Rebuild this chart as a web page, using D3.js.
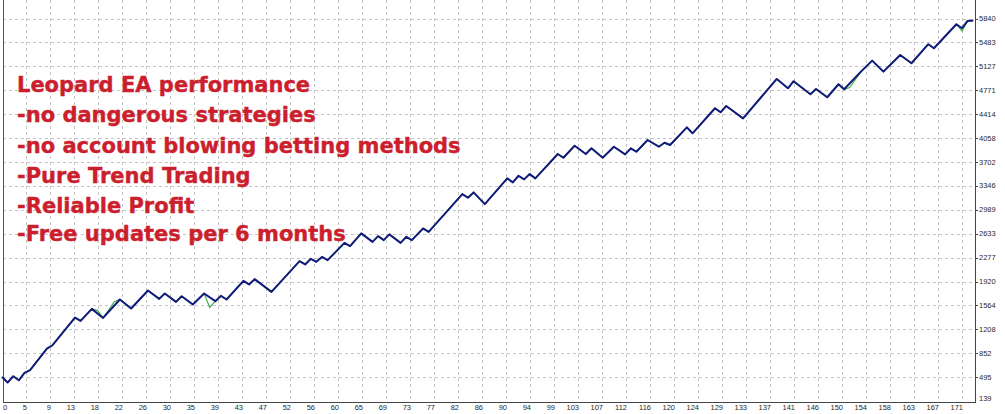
<!DOCTYPE html>
<html><head><meta charset="utf-8">
<script src="https://cdn.jsdelivr.net/npm/d3@7"></script>
<style>body{margin:0;background:#fff}svg{display:block}</style>
</head><body><svg id="c" width="1005" height="414"></svg>
<script>
// Balance curve: turning points (trade number, balance)
const tradeNo = [0,1,2,3,4,5,8,9,13,14,16,18,21,23,26,28,29,31,32,34,36,38,39,40,43,44,45,48,53,54,55,56,57,58,61,62,64,66,67,68,69,71,72,73,75,76,82,83,84,86,90,91,92,93,94,95,99,100,102,104,105,107,109,111,112,113,115,117,118,119,122,123,127,128,129,132,138,140,141,144,145,147,149,150,153,155,157,160,162,165,166,170,171,172,173];
const balance = [497,414,508,448,557,600,921,970,1383,1333,1512,1377,1652,1518,1786,1661,1741,1616,1701,1577,1741,1627,1706,1652,1929,1876,1955,1765,2223,2174,2258,2213,2287,2238,2496,2447,2637,2511,2596,2537,2622,2496,2586,2537,2711,2660,3223,3168,3248,3074,3457,3398,3496,3442,3521,3457,3820,3765,3944,3820,3905,3765,3929,3815,3905,3854,4029,3929,3988,3954,4218,4129,4502,4442,4536,4352,4939,4800,4905,4710,4790,4666,4860,4785,5048,5212,5048,5297,5173,5457,5397,5755,5695,5804,5809];
// Equity points that differ from balance (green line)
const equityTrade = [17,20,37,151,171];
const equityValue = [1490,1620,1533,4810,5655];
// Axes
const yTickValues = [139,495,852,1208,1564,1920,2277,2633,2989,3346,3702,4058,4414,4771,5127,5483,5840];
const xTickLabels = ["0","5","9","13","18","22","26","30","35","39","43","47","52","56","60","65","69","73","77","82","86","90","94","99","103","107","112","116","120","124","129","133","137","141","146","150","154","158","163","167","171"];
const notes = ["Leopard EA performance","-no dangerous strategies","-no account blowing betting methods","-Pure Trend Trading","-Reliable Profit","-Free updates per 6 months"];
const noteBaselines = [92,122,153,183,213,241];

const svg = d3.select("#c");
const W = 1005, H = 414;
const plotL = 3, plotR = 975, plotB = 402, plotT = 0;
const x = d3.scaleLinear().domain([0, 171]).range([2, 962]);
const y = d3.scaleLinear().domain([139, 5840]).range([401, 18.5]);
const xTickPos = xTickLabels.map((d, i) => x(i * 171 / (xTickLabels.length - 1)));

svg.append("rect").attr("width", W).attr("height", H).attr("fill", "#fff");

// grid
const g = svg.append("g");
g.selectAll("line.h").data(yTickValues.slice(1)).join("line")
  .attr("x1", plotL).attr("x2", plotR)
  .attr("y1", d => Math.round(y(d)) + 0.5).attr("y2", d => Math.round(y(d)) + 0.5)
  .attr("stroke", "#c4c4c4").attr("stroke-dasharray", "3,3");
g.selectAll("line.v").data(xTickPos.slice(1)).join("line")
  .attr("x1", d => Math.round(d) + 0.5).attr("x2", d => Math.round(d) + 0.5)
  .attr("y1", plotT).attr("y2", plotB)
  .attr("stroke", "#c4c4c4").attr("stroke-dasharray", "3,3");

// frame
svg.append("line").attr("x1", plotL + 0.5).attr("x2", plotL + 0.5).attr("y1", 0).attr("y2", plotB).attr("stroke", "#555");
svg.append("line").attr("x1", plotR + 0.5).attr("x2", plotR + 0.5).attr("y1", 0).attr("y2", plotB + 1).attr("stroke", "#444");
svg.append("line").attr("x1", plotL).attr("x2", plotR + 1).attr("y1", plotB + 0.5).attr("y2", plotB + 0.5).attr("stroke", "#444");

// y axis labels
svg.append("g").selectAll("text").data(yTickValues).join("text")
  .attr("x", 979).attr("y", (d, i) => i === 0 ? y(d) - 3 : y(d))
  .attr("dy", "0.35em")
  .attr("font-family", "Liberation Sans, Arial, sans-serif").attr("font-size", 7.5)
  .attr("fill", "#2a2a2a").text(d => d);
svg.append("g").selectAll("line").data(yTickValues.slice(1)).join("line")
  .attr("x1", plotR).attr("x2", plotR + 3)
  .attr("y1", d => Math.round(y(d)) + 0.5).attr("y2", d => Math.round(y(d)) + 0.5)
  .attr("stroke", "#444");

// x axis labels
svg.append("g").selectAll("text").data(xTickLabels).join("text")
  .attr("x", (d, i) => i === 0 ? 3 : xTickPos[i] + 1)
  .attr("text-anchor", (d, i) => i === 0 ? "start" : "end")
  .attr("y", 409.5)
  .attr("font-family", "Liberation Sans, Arial, sans-serif").attr("font-size", 7.5)
  .attr("fill", "#2a2a2a").text(d => d);

// equity (green) built from balance + differing points
const bal = tradeNo.map((t, i) => ({t, v: balance[i]}));
const eqPts = bal.filter(p => !equityTrade.includes(p.t))
  .concat(equityTrade.map((t, i) => ({t, v: equityValue[i]})))
  .sort((a, b) => a.t - b.t);
const line = d3.line().x(d => x(d.t)).y(d => y(d.v));
svg.append("path").datum(eqPts).attr("d", line)
  .attr("fill", "none").attr("stroke", "#3aa845").attr("stroke-width", 1.1);
svg.append("path").datum(bal).attr("d", line)
  .attr("fill", "none").attr("stroke", "#101a78").attr("stroke-width", 2).attr("stroke-linejoin", "round");

// notes
svg.append("g").selectAll("text").data(notes).join("text")
  .attr("x", 17).attr("y", (d, i) => noteBaselines[i])
  .attr("font-family", "DejaVu Sans, sans-serif").attr("font-weight", "bold").attr("font-size", 21)
  .attr("fill", "#cc1f2e").attr("stroke", "#cc1f2e").attr("stroke-width", 0.4)
  .attr("stroke-linejoin", "round").text(d => d);
</script></body></html>
